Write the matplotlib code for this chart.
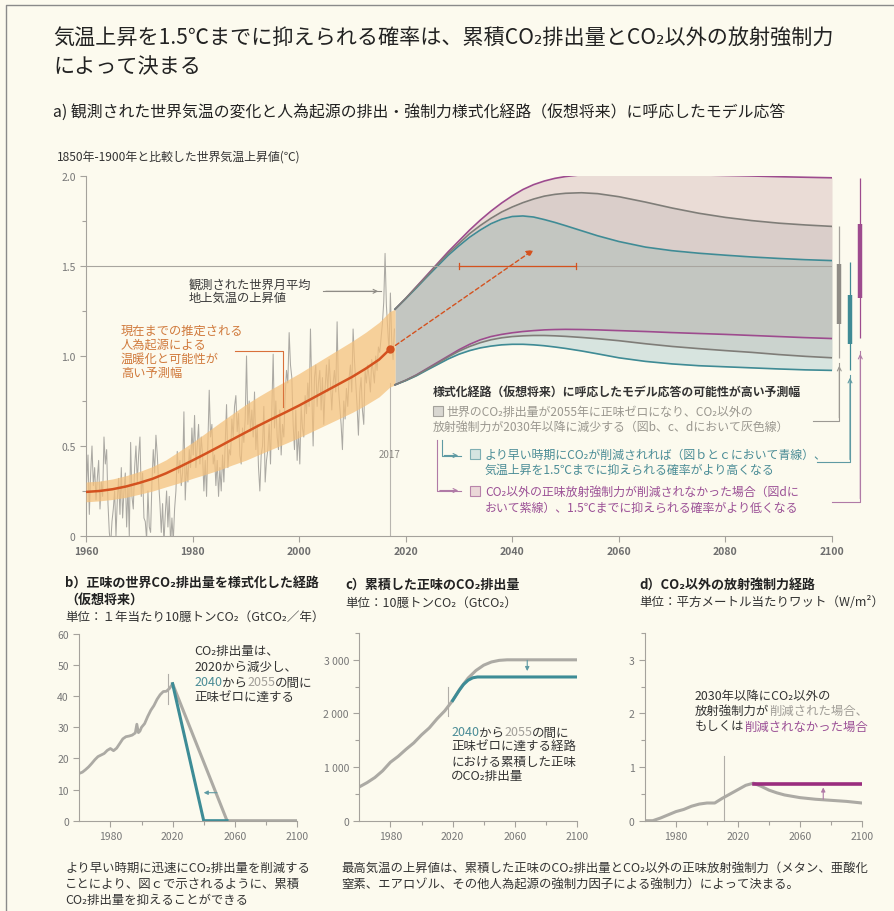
import numpy as np
import matplotlib
matplotlib.use('Agg')
import matplotlib.pyplot as plt
from matplotlib.lines import Line2D
from matplotlib.patches import Rectangle, FancyArrowPatch

plt.rcParams['font.family'] = ['Noto Sans CJK JP', 'DejaVu Sans']

# ---------------- data ----------------
obs_start = 1960
obs_per_year = 4
observed_temp = [
    0.30, 0.45, 0.12, 0.35,  0.50, 0.28, 0.38, 0.20,  0.32, 0.42, 0.15, 0.30,
    0.22, 0.55, 0.40, 0.48,  0.18, 0.02, -0.05, 0.08, 0.15, 0.25, 0.00, 0.20,
    0.32, 0.12, 0.38, 0.10,  0.25, 0.35, 0.05, 0.28,  0.00, 0.52, 0.22, 0.15,
    0.38, 0.50, 0.30, 0.45,  0.55, 0.22, 0.35, 0.10,  0.08, -0.02, 0.25, 0.05,
    0.02, 0.30, 0.48, 0.35,  0.56, 0.45, 0.30, 0.18,  0.02, 0.18, -0.04, 0.12,
    0.25, 0.05, 0.22, -0.05, 0.10, -0.03, 0.15, 0.25, 0.47, 0.35, 0.42, 0.28,
    0.35, 0.69, 0.20, 0.40,  0.30, 0.48, 0.38, 0.60,  0.45, 0.67, 0.38, 0.50,
    0.62, 0.40, 0.55, 0.45,  0.25, 0.42, 0.22, 0.52,  0.81, 0.55, 0.62, 0.40,
    0.45, 0.28, 0.42, 0.22,  0.38, 0.25, 0.45, 0.30,  0.52, 0.73, 0.38, 0.48,
    0.45, 0.65, 0.55, 0.72,  0.78, 0.58, 0.68, 0.45,  0.40, 0.60, 0.52, 0.65,
    1.00, 0.62, 0.75, 0.58,  0.70, 0.55, 0.80, 0.48,  0.62, 0.38, 0.25, 0.45,
    0.50, 0.72, 0.30, 0.42,  0.48, 0.62, 0.40, 0.70,  1.01, 0.60, 0.75, 0.55,
    0.48, 0.70, 0.45, 0.62,  0.55, 0.78, 0.92, 0.85,  1.13, 0.95, 0.88, 0.62,
    0.48, 0.70, 0.42, 0.58,  0.40, 0.72, 0.60, 0.55,  0.78, 0.68, 0.85, 0.72,
    1.15, 0.80, 0.50, 0.88,  0.95, 0.72, 0.85, 0.92,  0.70, 0.88, 0.62, 0.82,
    0.95, 0.80, 0.98, 0.85,  0.70, 0.85, 0.92, 0.80,  1.19, 0.82, 0.72, 0.62,
    0.48, 0.75, 0.65, 0.82,  0.72, 0.88, 0.95, 0.80,  1.15, 0.98, 0.85, 0.72,
    0.56, 0.80, 0.88, 0.70,  0.62, 0.92, 0.85, 0.95,  0.88, 0.80, 0.98, 0.92,
    0.85, 1.00, 0.92, 1.05,  1.02, 1.10, 1.18, 1.30,  1.57, 1.28, 1.15, 1.02,
    1.35, 1.08, 0.98, 1.15,
]

warming_years = [1960, 1962.5, 1965, 1967.5, 1970, 1972.5, 1975, 1977.5, 1980, 1982.5,
                 1985, 1987.5, 1990, 1992.5, 1995, 1997.5, 2000, 2002.5, 2005, 2007.5,
                 2010, 2012.5, 2015, 2017, 2018]
warming = [0.245, 0.25, 0.26, 0.275, 0.295, 0.318, 0.348, 0.383, 0.42, 0.458,
           0.497, 0.537, 0.576, 0.615, 0.652, 0.688, 0.725, 0.765, 0.805, 0.845,
           0.885, 0.93, 0.98, 1.037, 1.05]
warming_halfwidth = [0.055, 0.055, 0.057, 0.06, 0.063, 0.068, 0.075, 0.088, 0.10, 0.115,
                     0.13, 0.142, 0.155, 0.162, 0.168, 0.173, 0.178, 0.183, 0.188, 0.193,
                     0.198, 0.202, 0.207, 0.21, 0.21]

fut_years = [2018, 2020, 2022, 2024, 2026, 2028, 2030, 2032, 2034, 2036, 2038, 2040,
             2042, 2044, 2046, 2048, 2050, 2053, 2056, 2060, 2065, 2070, 2075, 2080,
             2085, 2090, 2095, 2100]
purple_upper = [1.26, 1.32, 1.385, 1.45, 1.515, 1.58, 1.64, 1.70, 1.755, 1.805, 1.85, 1.89,
                1.925, 1.952, 1.972, 1.987, 1.997, 2.007, 2.012, 2.013, 2.012, 2.01, 2.006, 2.003,
                2.0, 1.996, 1.993, 1.99]
gray_upper = [1.26, 1.32, 1.383, 1.445, 1.51, 1.57, 1.625, 1.68, 1.725, 1.765, 1.80, 1.828,
              1.852, 1.872, 1.888, 1.898, 1.904, 1.907, 1.902, 1.885, 1.855, 1.822, 1.793, 1.77,
              1.752, 1.738, 1.728, 1.72]
blue_upper = [1.26, 1.318, 1.378, 1.44, 1.50, 1.56, 1.612, 1.66, 1.70, 1.735, 1.76, 1.775,
              1.778, 1.772, 1.758, 1.742, 1.724, 1.696, 1.668, 1.636, 1.605, 1.585, 1.571, 1.56,
              1.55, 1.542, 1.535, 1.53]
purple_lower = [0.84, 0.865, 0.895, 0.93, 0.965, 1.00, 1.035, 1.065, 1.09, 1.108, 1.12, 1.129,
                1.136, 1.141, 1.145, 1.147, 1.148, 1.147, 1.145, 1.141, 1.136, 1.13, 1.125, 1.12,
                1.114, 1.108, 1.102, 1.097]
gray_lower = [0.84, 0.865, 0.893, 0.927, 0.96, 0.995, 1.027, 1.053, 1.074, 1.09, 1.101, 1.108,
              1.112, 1.114, 1.114, 1.112, 1.109, 1.103, 1.096, 1.085, 1.068, 1.053, 1.041, 1.03,
              1.02, 1.008, 0.998, 0.99]
blue_lower = [0.84, 0.863, 0.89, 0.922, 0.953, 0.984, 1.01, 1.03, 1.045, 1.055, 1.062, 1.065,
              1.065, 1.062, 1.057, 1.05, 1.042, 1.028, 1.012, 0.99, 0.97, 0.956, 0.946, 0.94,
              0.934, 0.928, 0.923, 0.92]

# 2100 ranges (thin = full, thick = central)
gray_range = [0.99, 1.72]
gray_central = [1.18, 1.51]
blue_range = [0.92, 1.52]
blue_central = [1.065, 1.34]
purple_range = [1.10, 1.99]
purple_central = [1.325, 1.735]

dot_2017 = (2017, 1.037)
arrow_end = (2044, 1.59)
cross_15 = [2030, 2052]

# panel b
co2_hist_years = [1960, 1962, 1964, 1966, 1968, 1970, 1972, 1974, 1976, 1978, 1980,
                  1982, 1984, 1986, 1988, 1990, 1992, 1994, 1996, 1997, 1998, 1999,
                  2000, 2002, 2004, 2006, 2008, 2010, 2012, 2014, 2016, 2018, 2020]
co2_hist = [15.2, 15.6, 16.4, 17.3, 18.4, 19.6, 20.6, 21.1, 21.6, 22.6, 23.2,
            22.5, 23.3, 24.8, 26.3, 27.0, 27.2, 27.5, 28.2, 31.0, 28.3, 28.8,
            30.0, 31.2, 33.5, 35.5, 37.0, 39.0, 40.5, 41.5, 41.6, 42.5, 44.0]
co2_gray_years = [2020, 2055, 2100]
co2_gray = [44.0, 0.0, 0.0]
co2_blue_years = [2020, 2040, 2055]
co2_blue = [44.0, 0.0, 0.0]

# panel c
cum_years = [1960, 1965, 1970, 1975, 1980, 1985, 1990, 1995, 2000, 2005, 2010,
             2015, 2020, 2025, 2030, 2035, 2040, 2045, 2050, 2055, 2100]
cum_gray = [630, 710, 805, 930, 1090, 1200, 1330, 1450, 1600, 1730, 1900,
            2050, 2240, 2470, 2660, 2800, 2900, 2960, 2990, 3000, 3000]
cum_blue_years = [2020, 2024, 2027, 2030, 2033, 2036, 2100]
cum_blue = [2240, 2420, 2540, 2620, 2665, 2680, 2680]

# panel d
nonco2_years = [1960, 1965, 1970, 1975, 1980, 1985, 1990, 1995, 2000, 2005, 2010,
                2015, 2020, 2025, 2030, 2035, 2040, 2045, 2050, 2060, 2070, 2080,
                2090, 2100]
nonco2_gray = [0.0, 0.0, 0.05, 0.11, 0.17, 0.21, 0.27, 0.31, 0.33, 0.33, 0.42,
               0.50, 0.58, 0.66, 0.70, 0.64, 0.57, 0.52, 0.48, 0.43, 0.40, 0.38,
               0.36, 0.33]
nonco2_purple_years = [2030, 2100]
nonco2_purple = [0.69, 0.69]

# ---------------- styles ----------------
BG = '#FCFAEE'
OBS = '#ABA9A3'
RED = '#D4521F'
OBAND = '#F5C07A'
OTXT = '#D07A3C'
PURPLE = '#9D4B8E'
TEAL = '#3F8B95'
GRAYL = '#7F7D78'
DARK = '#333333'
SPINE = '#A5A29C'
TICKC = '#777777'

W, H = 894, 912
fig = plt.figure(figsize=(W / 100, H / 100), dpi=100)
fig.patch.set_facecolor(BG)
renderer = fig.canvas.get_renderer()


def fx(x):
    return x / W


def fy(y):
    return 1 - y / H


def rect(l, t, r, b):
    return [l / W, 1 - b / H, (r - l) / W, (b - t) / H]


def txt(x, y, s, size, color=DARK, weight='normal', ha='left'):
    return fig.text(fx(x), fy(y), s, fontsize=size, color=color, weight=weight,
                    ha=ha, va='center')


def ctext(x, y, parts, size, weight='normal'):
    cur = x
    for s, c in parts:
        t = fig.text(fx(cur), fy(y), s, fontsize=size, color=c, weight=weight,
                     ha='left', va='center')
        cur += t.get_window_extent(renderer=renderer).width


def fline(pts, color, lw=0.9, head=False):
    xs = [fx(p[0]) for p in pts]
    ys = [fy(p[1]) for p in pts]
    fig.add_artist(Line2D(xs, ys, color=color, lw=lw, transform=fig.transFigure))
    if head:
        a = FancyArrowPatch((xs[-2], ys[-2]), (xs[-1], ys[-1]), arrowstyle='->',
                            mutation_scale=7, color=color, lw=lw,
                            transform=fig.transFigure)
        fig.add_artist(a)


def style_axes(ax):
    ax.set_facecolor('none')
    for s in ['top', 'right']:
        ax.spines[s].set_visible(False)
    for s in ['left', 'bottom']:
        ax.spines[s].set_color(SPINE)
        ax.spines[s].set_linewidth(0.8)
    ax.tick_params(which='both', color=SPINE, labelcolor=TICKC, labelsize=7.5, width=0.8)
    ax.tick_params(which='major', length=4)
    ax.tick_params(which='minor', length=3)


# frame
fig.add_artist(Line2D([fx(6), fx(6), 1], [0, fy(6), fy(6)], color='#8A8A8A', lw=1.0,
                      transform=fig.transFigure))

# titles
txt(53, 39, '気温上昇を1.5℃までに抑えられる確率は、累積CO₂排出量とCO₂以外の放射強制力', 15.2, '#222222')
txt(53, 67, 'によって決まる', 15.2, '#222222')
txt(53, 113, 'a) 観測された世界気温の変化と人為起源の排出・強制力様式化経路（仮想将来）に呼応したモデル応答', 11.4, '#222222')
txt(57, 157, '1850年-1900年と比較した世界気温上昇値(℃)', 8.6, '#333333')

# ---------------- panel a ----------------
ax = fig.add_axes(rect(86, 177, 832, 537))
style_axes(ax)
ax.set_xlim(1960, 2100)
ax.set_ylim(0, 2.0)
ax.set_yticks([0, 0.5, 1.0, 1.5, 2.0])
ax.set_yticklabels(['0', '0.5', '1.0', '1.5', '2.0'])
ax.set_yticks([0.25, 0.75, 1.25, 1.75], minor=True)
ax.set_xticks(range(1960, 2101, 20))
for lab in ax.get_xticklabels():
    lab.set_fontweight('bold')
    lab.set_color('#6E6E6E')

t_obs = obs_start + (np.arange(len(observed_temp)) + 0.5) / obs_per_year
ax.plot(t_obs, observed_temp, color=OBS, lw=0.75, zorder=2)

wy = np.array(warming_years)
wv = np.array(warming)
wh = np.array(warming_halfwidth)
ax.fill_between(wy, wv - wh, wv + wh, color=OBAND, alpha=0.72, lw=0, zorder=3)
ax.plot(wy[:-1], wv[:-1], color=RED, lw=1.8, zorder=4)

fy_ = np.array(fut_years)
pu, gu, bu = np.array(purple_upper), np.array(gray_upper), np.array(blue_upper)
pl, gl, bl = np.array(purple_lower), np.array(gray_lower), np.array(blue_lower)
ax.fill_between(fy_, gu, pu, color='#EADCD6', lw=0, zorder=2)
ax.fill_between(fy_, bu, gu, color='#DACECA', lw=0, zorder=2)
ax.fill_between(fy_, pl, bu, color='#C3C6C1', lw=0, zorder=2)
ax.fill_between(fy_, gl, pl, color='#CBD3CE', lw=0, zorder=2)
ax.fill_between(fy_, bl, gl, color='#D7E4DF', lw=0, zorder=2)
for arr, c in [(pu, PURPLE), (pl, PURPLE), (bu, TEAL), (bl, TEAL), (gu, GRAYL), (gl, GRAYL)]:
    ax.plot(fy_, arr, color=c, lw=1.2, zorder=4)

ax.axhline(1.5, color='#A8A59F', lw=0.8, zorder=5)
ax.plot([2017, 2017], [0, 0.85], color='#B8B5AF', lw=0.8, zorder=1)
ax.text(2017, 0.455, '2017', fontsize=7, color='#8A8782', ha='center', va='center')

ax.annotate('', xy=arrow_end, xytext=dot_2017,
            arrowprops=dict(arrowstyle='-|>', color=RED, lw=1.0, linestyle=(0, (3, 2)),
                            mutation_scale=10, shrinkA=0, shrinkB=0), zorder=6)
ax.plot(*dot_2017, marker='o', color=RED, ms=6, zorder=7, mec='none')
ax.plot(cross_15, [1.5, 1.5], color=RED, lw=0.9, zorder=6)
for xx in cross_15:
    ax.plot([xx, xx], [1.485, 1.515], color=RED, lw=0.9, zorder=6)

for xx, rng, cen, cthin, cthick in [(2101.3, gray_range, gray_central, '#A4A19B', '#8F8C86'),
                                   (2103.3, blue_range, blue_central, TEAL, TEAL),
                                   (2105.2, purple_range, purple_central, PURPLE, PURPLE)]:
    ax.plot([xx, xx], rng, color=cthin, lw=0.9, clip_on=False, solid_capstyle='butt')
    ax.plot([xx, xx], cen, color=cthick, lw=3.2, clip_on=False, solid_capstyle='butt')

# annotations panel a
txt(189, 285, '観測された世界月平均', 8.8, '#3A3A3A')
txt(189, 298, '地上気温の上昇値', 8.8, '#3A3A3A')
fline([(323, 292.3), (381, 292.3)], '#8F8C86', 0.8, head=True)
for i, s in enumerate(['現在までの推定される', '人為起源による', '温暖化と可能性が', '高い予測幅']):
    txt(121, 331 + i * 14, s, 8.8, OTXT)
fline([(235, 352.3), (282.7, 352.3), (282.7, 408)], '#D9703A', 0.8)

txt(433, 392, '様式化経路（仮想将来）に呼応したモデル応答の可能性が高い予測幅', 8.6, '#333333', weight='bold')
fig.add_artist(Rectangle((fx(433), fy(417)), 10 / W, 10 / H, facecolor='#D9D7D1',
                         edgecolor='#A3A19B', lw=0.8, transform=fig.transFigure))
txt(446, 412, '世界のCO₂排出量が2055年に正味ゼロになり、CO₂以外の', 8.6, '#9A978F')
txt(433, 427, '放射強制力が2030年以降に減少する（図b、c、dにおいて灰色線）', 8.6, '#9A978F')
fig.add_artist(Rectangle((fx(470), fy(460)), 10 / W, 10 / H, facecolor='#D5E5E1',
                         edgecolor='#7FAFB3', lw=0.8, transform=fig.transFigure))
txt(485, 455, 'より早い時期にCO₂が削減されれば（図ｂとｃにおいて青線）、', 8.6, '#4A8C96')
txt(485, 470, '気温上昇を1.5℃までに抑えられる確率がより高くなる', 8.6, '#4A8C96')
fig.add_artist(Rectangle((fx(470), fy(497)), 10 / W, 10 / H, facecolor='#EBD8D8',
                         edgecolor='#B884AA', lw=0.8, transform=fig.transFigure))
txt(485, 492, 'CO₂以外の正味放射強制力が削減されなかった場合（図dに', 8.6, '#9B5096')
txt(485, 508, 'おいて紫線）、1.5℃までに抑えられる確率がより低くなる', 8.6, '#9B5096')

fline([(441.5, 441), (441.5, 456.5), (461, 456.5)], '#5E9AA3', 0.8, head=True)
fline([(437, 441), (437, 491.5), (461, 491.5)], '#B07AA6', 0.8, head=True)

fline([(813, 421.7), (839.3, 421.7), (839.3, 364)], '#9C9993', 0.8, head=True)
fline([(817, 463.3), (850, 463.3), (850, 376)], '#5E9AA3', 0.8, head=True)
fline([(832, 502.5), (860.3, 502.5), (860.3, 352)], '#B07AA6', 0.8, head=True)

# ---------------- panel b ----------------
axb = fig.add_axes(rect(79.3, 635, 297, 821.7))
style_axes(axb)
axb.set_xlim(1960, 2100)
axb.set_ylim(0, 60)
axb.set_yticks(range(0, 61, 10))
axb.set_xticks([1980, 2020, 2060, 2100])
axb.set_xticks([2000, 2040, 2080], minor=True)
axb.plot(co2_hist_years, co2_hist, color='#ACAAA4', lw=2.0, solid_capstyle='round')
axb.plot(co2_gray_years, co2_gray, color='#ACAAA4', lw=2.2)
axb.plot(co2_blue_years, co2_blue, color='#3D8C96', lw=2.2)
axb.plot([2017, 2017], [37.5, 47], color='#B0ADA7', lw=0.8)
axb.annotate('', xy=(2040, 9), xytext=(2048.5, 9),
             arrowprops=dict(arrowstyle='-|>', color='#5E9AA3', lw=0.8, mutation_scale=6,
                             shrinkA=0, shrinkB=0))

txt(65, 583, 'b）正味の世界CO₂排出量を様式化した経路', 9.4, '#222222', weight='bold')
txt(65, 600, '（仮想将来）', 9.4, '#222222', weight='bold')
txt(65, 617, '単位：１年当たり10臆トンCO₂（GtCO₂／年）', 9.0, '#333333')
txt(194, 652, 'CO₂排出量は、', 9.0, '#333333')
txt(194, 667, '2020から減少し、', 9.0, '#333333')
ctext(194, 683, [('2040', '#4A8C96'), ('から', '#333333'), ('2055', '#A09D97'),
                 ('の間に', '#333333')], 9.0)
txt(194, 698, '正味ゼロに達する', 9.0, '#333333')

txt(65, 868, 'より早い時期に迅速にCO₂排出量を削減する', 8.9, '#333333')
txt(65, 884, 'ことにより、図ｃで示されるように、累積', 8.9, '#333333')
txt(65, 900, 'CO₂排出量を抑えることができる', 8.9, '#333333')

# ---------------- panel c ----------------
axc = fig.add_axes(rect(359.3, 634, 577, 821.7))
style_axes(axc)
axc.set_xlim(1960, 2100)
axc.set_ylim(0, 3500)
axc.set_yticks([0, 1000, 2000, 3000])
axc.set_yticklabels(['0', '1 000', '2 000', '3 000'])
axc.set_yticks([500, 1500, 2500, 3500], minor=True)
axc.set_xticks([1980, 2020, 2060, 2100])
axc.set_xticks([2000, 2040, 2080], minor=True)
axc.plot([2017, 2017], [1950, 2500], color='#B0ADA7', lw=0.8)
axc.plot(cum_years, cum_gray, color='#ACAAA4', lw=2.2)
axc.plot(cum_blue_years, cum_blue, color='#3D8C96', lw=2.2)
axc.annotate('', xy=(2068, 2790), xytext=(2068, 2990),
             arrowprops=dict(arrowstyle='-|>', color='#5E9AA3', lw=0.8, mutation_scale=6,
                             shrinkA=0, shrinkB=0))

txt(345, 585, 'c）累積した正味のCO₂排出量', 9.4, '#222222', weight='bold')
txt(345, 603, '単位：10臆トンCO₂（GtCO₂）', 9.0, '#333333')
ctext(451, 733, [('2040', '#4A8C96'), ('から', '#333333'), ('2055', '#A09D97'),
                 ('の間に', '#333333')], 9.0)
txt(451, 747.5, '正味ゼロに達する経路', 9.0, '#333333')
txt(451, 762, 'における累積した正味', 9.0, '#333333')
txt(451, 776.5, 'のCO₂排出量', 9.0, '#333333')

txt(341, 868, '最高気温の上昇値は、累積した正味のCO₂排出量とCO₂以外の正味放射強制力（メタン、亜酸化', 8.9, '#333333')
txt(341, 885, '窒素、エアロゾル、その他人為起源の強制力因子による強制力）によって決まる。', 8.9, '#333333')

# ---------------- panel d ----------------
axd = fig.add_axes(rect(645, 634, 862, 821.7))
style_axes(axd)
axd.set_xlim(1960, 2100)
axd.set_ylim(0, 3.5)
axd.set_yticks([0, 1, 2, 3])
axd.set_yticks([0.5, 1.5, 2.5, 3.5], minor=True)
axd.set_xticks([1980, 2020, 2060, 2100])
axd.set_xticks([2000, 2040, 2080], minor=True)
axd.plot([2011, 2011], [0, 1.2], color='#B0ADA7', lw=0.8)
axd.plot(nonco2_years, nonco2_gray, color='#ACAAA4', lw=2.2)
axd.plot(nonco2_purple_years, nonco2_purple, color='#9A2D7E', lw=2.6)
axd.annotate('', xy=(2075, 0.62), xytext=(2075, 0.40),
             arrowprops=dict(arrowstyle='-|>', color='#B07AA6', lw=0.8, mutation_scale=6,
                             shrinkA=0, shrinkB=0))

txt(639, 586, 'd）CO₂以外の放射強制力経路', 9.4, '#222222', weight='bold')
txt(639, 603, '単位：平方メートル当たりワット（W/m²）', 9.0, '#333333')
txt(695, 697, '2030年以降にCO₂以外の', 8.9, '#333333')
ctext(695, 711, [('放射強制力が', '#333333'), ('削減された場合、', '#A09D97')], 8.9)
ctext(695, 727, [('もしくは', '#333333'), ('削減されなかった場合', '#9B5096')], 8.9)

fig.savefig('out.png', dpi=100, facecolor=BG)
